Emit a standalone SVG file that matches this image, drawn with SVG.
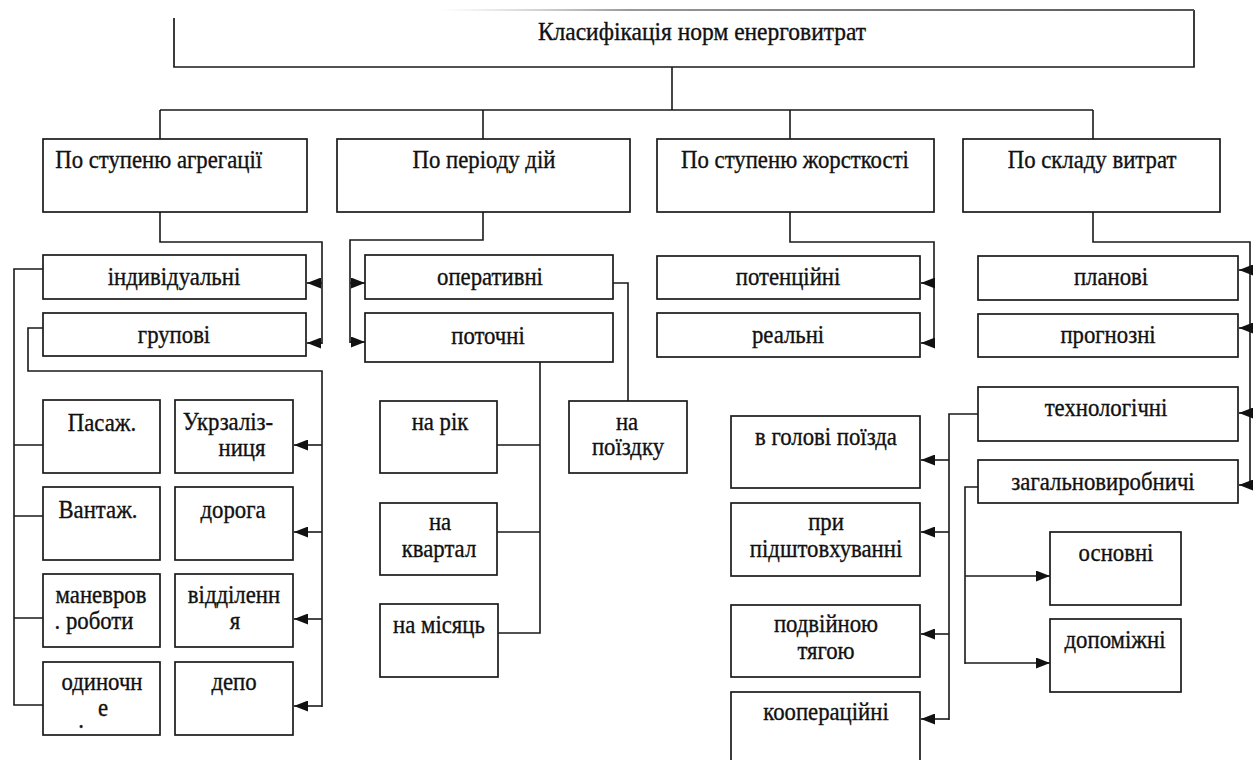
<svg xmlns="http://www.w3.org/2000/svg" width="1256" height="760" viewBox="0 0 1256 760">
<style>
.b{fill:#fff;stroke:#1a1a1a;stroke-width:1.7}
.c{fill:none;stroke:#1a1a1a;stroke-width:1.6}
text{font-family:'Liberation Serif','DejaVu Serif','Noto Serif',serif;font-size:25px;fill:#111;stroke:#111;stroke-width:0.35;transform-box:fill-box;transform-origin:50% 50%;transform:scaleX(0.91)}
.m{text-anchor:middle}
.ti{transform:scaleX(0.94)}
</style>
<defs>
<marker id="ah" markerUnits="userSpaceOnUse" markerWidth="15" markerHeight="11" refX="14" refY="5.5" orient="auto">
<path d="M0,0 L14,5.5 L0,11 z" fill="#111"/>
</marker>
<linearGradient id="fade" gradientUnits="userSpaceOnUse" x1="440" y1="0" x2="1194" y2="0">
<stop offset="0" stop-color="#bbb" stop-opacity="0"/>
<stop offset="0.25" stop-color="#999"/>
<stop offset="1" stop-color="#555"/>
</linearGradient>
</defs>
<rect width="1256" height="760" fill="#fff"/>

<g id="connectors">
<path class="c" d="M672,67 V110 M160,110 H1093 M160,110 V139 M483,110 V139 M790,110 V139 M1093,110 V139"/>
<path class="c" d="M160,212 V242 H322 V344"/>
<path class="c" marker-end="url(#ah)" d="M322,283 H307"/>
<path class="c" marker-end="url(#ah)" d="M322,343 H307"/>
<path class="c" d="M483,212 V240 H350 V343"/>
<path class="c" marker-end="url(#ah)" d="M350,283 H365"/>
<path class="c" marker-end="url(#ah)" d="M350,342 H365"/>
<path class="c" d="M790,212 V242 H934 V344"/>
<path class="c" marker-end="url(#ah)" d="M934,283 H921"/>
<path class="c" marker-end="url(#ah)" d="M934,343 H921"/>
<path class="c" d="M1093,212 V242 H1250 V486"/>
<path class="c" marker-end="url(#ah)" d="M1250,270 H1239"/>
<path class="c" marker-end="url(#ah)" d="M1250,328 H1239"/>
<path class="c" marker-end="url(#ah)" d="M1250,413 H1239"/>
<path class="c" marker-end="url(#ah)" d="M1250,485 H1239"/>
<path class="c" d="M43,269 H14 V705 H43 M14,445 H43 M14,516 H43 M14,618 H43"/>
<path class="c" d="M43,328 H28 V371 H322 V707"/>
<path class="c" marker-end="url(#ah)" d="M322,445 H294"/>
<path class="c" marker-end="url(#ah)" d="M322,532 H294"/>
<path class="c" marker-end="url(#ah)" d="M322,619 H294"/>
<path class="c" marker-end="url(#ah)" d="M322,706 H294"/>
<path class="c" d="M613,283 H628 V401"/>
<path class="c" d="M540,362 V633 H498 M540,445 H497 M540,532 H497"/>
<path class="c" d="M978,414 H949 V720"/>
<path class="c" marker-end="url(#ah)" d="M949,460 H921"/>
<path class="c" marker-end="url(#ah)" d="M949,532 H921"/>
<path class="c" marker-end="url(#ah)" d="M949,634 H921"/>
<path class="c" marker-end="url(#ah)" d="M949,719 H921"/>
<path class="c" d="M978,487 H965 V664"/>
<path class="c" marker-end="url(#ah)" d="M965,576 H1050"/>
<path class="c" marker-end="url(#ah)" d="M965,663 H1050"/>
</g>

<g id="n-root">
<path d="M174,18 V67 H1194 V10" fill="none" stroke="#1a1a1a" stroke-width="1.7"/>
<path d="M440,10 H1194" fill="none" stroke="url(#fade)" stroke-width="1.8"/>
<text class="m ti" x="702" y="40">Класифікація норм енерговитрат</text>
</g>

<g id="n-agr"><rect class="b" x="43" y="139" width="264" height="73"/><text x="45" y="168">По ступеню агрегації</text></g>
<g id="n-period"><rect class="b" x="337" y="139" width="293" height="73"/><text class="m" x="484" y="168">По періоду дій</text></g>
<g id="n-rigid"><rect class="b" x="657" y="139" width="277" height="73"/><text class="m" x="795" y="168">По ступеню жорсткості</text></g>
<g id="n-comp"><rect class="b" x="963" y="139" width="257" height="73"/><text class="m" x="1092" y="168">По складу витрат</text></g>

<g id="n-ind"><rect class="b" x="43" y="255" width="263" height="44"/><text class="m" x="174" y="285">індивідуальні</text></g>
<g id="n-grp"><rect class="b" x="43" y="313" width="263" height="43"/><text class="m" x="174" y="343">групові</text></g>

<g id="n-pas"><rect class="b" x="43" y="400" width="117" height="73"/><text class="m" x="102" y="431">Пасаж.</text></g>
<g id="n-ukr"><rect class="b" x="175" y="400" width="118" height="73"/><text class="m" x="228" y="430">Укрзаліз-</text><text class="m" x="242" y="456">ниця</text></g>
<g id="n-van"><rect class="b" x="43" y="487" width="117" height="73"/><text class="m" x="98" y="518">Вантаж.</text></g>
<g id="n-dor"><rect class="b" x="175" y="487" width="118" height="73"/><text class="m" x="233" y="518">дорога</text></g>
<g id="n-man"><rect class="b" x="43" y="574" width="117" height="73"/><text class="m" x="101" y="603">маневров</text><text class="m" x="94" y="629">. роботи</text></g>
<g id="n-vid"><rect class="b" x="175" y="574" width="118" height="73"/><text class="m" x="234" y="603">відділенн</text><text class="m" x="235" y="629">я</text></g>
<g id="n-odyn"><rect class="b" x="43" y="662" width="117" height="73"/><text class="m" x="102" y="690">одиночн</text><text class="m" x="103" y="716">е</text><text class="m" x="81" y="728">.</text></g>
<g id="n-depo"><rect class="b" x="175" y="662" width="118" height="73"/><text class="m" x="234" y="690">депо</text></g>

<g id="n-oper"><rect class="b" x="365" y="255" width="248" height="44"/><text class="m" x="490" y="285">оперативні</text></g>
<g id="n-potoch"><rect class="b" x="365" y="313" width="248" height="49"/><text class="m" x="488" y="344">поточні</text></g>
<g id="n-rik"><rect class="b" x="380" y="401" width="117" height="72"/><text class="m" x="440" y="430">на рік</text></g>
<g id="n-kv"><rect class="b" x="380" y="503" width="117" height="72"/><text class="m" x="440" y="530">на</text><text class="m" x="439" y="557">квартал</text></g>
<g id="n-mis"><rect class="b" x="380" y="604" width="118" height="73"/><text class="m" x="439" y="633">на місяць</text></g>
<g id="n-poizd"><rect class="b" x="569" y="401" width="118" height="72"/><text class="m" x="627" y="430">на</text><text class="m" x="628" y="455">поїздку</text></g>

<g id="n-pot"><rect class="b" x="657" y="256" width="263" height="43"/><text class="m" x="788" y="285">потенційні</text></g>
<g id="n-real"><rect class="b" x="657" y="313" width="263" height="44"/><text class="m" x="788" y="343">реальні</text></g>

<g id="n-plan"><rect class="b" x="978" y="256" width="260" height="44"/><text class="m" x="1111" y="285">планові</text></g>
<g id="n-progn"><rect class="b" x="978" y="314" width="260" height="43"/><text class="m" x="1108" y="343">прогнозні</text></g>
<g id="n-tech"><rect class="b" x="978" y="387" width="260" height="54"/><text class="m" x="1106" y="416">технологічні</text></g>
<g id="n-zag"><rect class="b" x="978" y="460" width="260" height="43"/><text class="m" x="1103" y="490">загальновиробничі</text></g>

<g id="n-holov"><rect class="b" x="731" y="416" width="189" height="72"/><text class="m" x="826" y="445">в голові поїзда</text></g>
<g id="n-pidsht"><rect class="b" x="731" y="503" width="189" height="73"/><text class="m" x="826" y="530">при</text><text class="m" x="826" y="557">підштовхуванні</text></g>
<g id="n-podv"><rect class="b" x="731" y="605" width="189" height="72"/><text class="m" x="826" y="632">подвійною</text><text class="m" x="826" y="659">тягою</text></g>
<g id="n-koop"><rect class="b" x="731" y="692" width="189" height="80"/><text class="m" x="826" y="720">кооперацiйнi</text></g>

<g id="n-osn"><rect class="b" x="1050" y="532" width="131" height="73"/><text class="m" x="1116" y="561">основні</text></g>
<g id="n-dop"><rect class="b" x="1050" y="619" width="131" height="73"/><text class="m" x="1115" y="648">допоміжні</text></g>
</svg>
